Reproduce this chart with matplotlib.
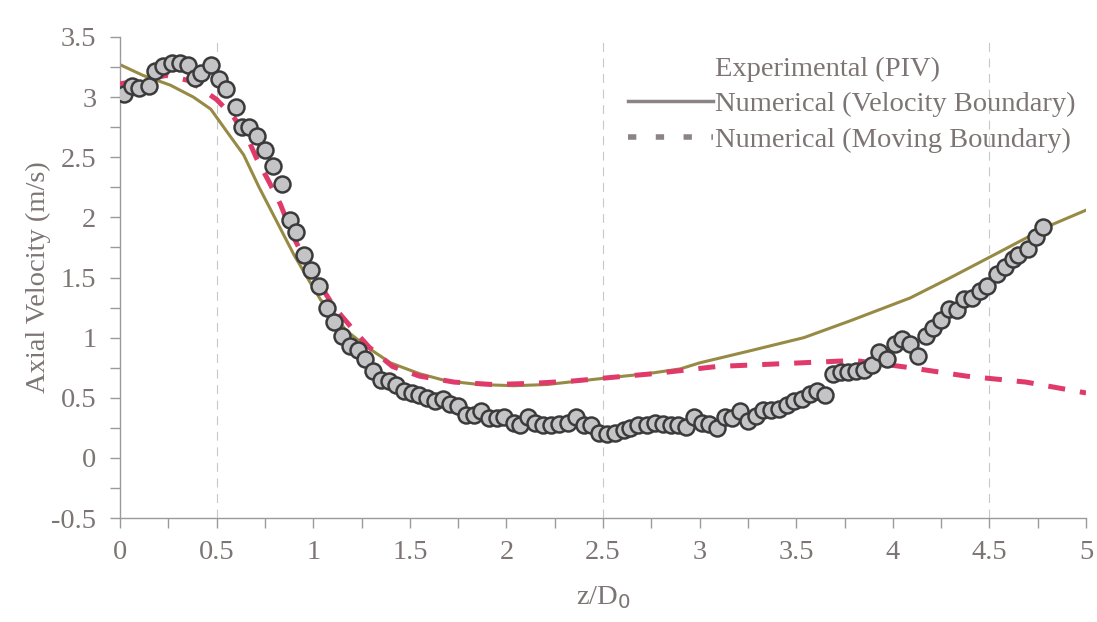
import numpy as np
import matplotlib.pyplot as plt
from matplotlib.lines import Line2D
from matplotlib.ticker import MultipleLocator

# experimental PIV points
exp_z = [0.02, 0.06, 0.10, 0.15, 0.18, 0.22, 0.27, 0.31, 0.35, 0.39, 0.42, 0.47,
         0.51, 0.55, 0.60, 0.63, 0.67, 0.71, 0.75, 0.79, 0.84, 0.88, 0.91, 0.95,
         0.99, 1.03, 1.07, 1.11, 1.15, 1.19, 1.23, 1.27, 1.31, 1.35, 1.39, 1.43,
         1.47, 1.51, 1.55, 1.59, 1.63, 1.67, 1.71, 1.75, 1.79, 1.83, 1.87, 1.91,
         1.95, 1.99, 2.04, 2.07, 2.11, 2.15, 2.19, 2.23, 2.27, 2.32, 2.36, 2.40,
         2.44, 2.48, 2.52, 2.56, 2.61, 2.64, 2.68, 2.73, 2.77, 2.81, 2.85, 2.89,
         2.93, 2.97, 3.01, 3.05, 3.09, 3.13, 3.17, 3.21, 3.25, 3.29, 3.33, 3.37,
         3.41, 3.45, 3.49, 3.53, 3.57, 3.61, 3.65, 3.69, 3.73, 3.77, 3.81, 3.85,
         3.89, 3.93, 3.97, 4.01, 4.05, 4.09, 4.13, 4.17, 4.21, 4.25, 4.29, 4.33,
         4.37, 4.41, 4.45, 4.49, 4.54, 4.58, 4.62, 4.65, 4.70, 4.74, 4.78]
exp_v = [3.03, 3.09, 3.08, 3.09, 3.22, 3.26, 3.28, 3.28, 3.27, 3.16, 3.20, 3.27,
         3.15, 3.07, 2.92, 2.75, 2.75, 2.68, 2.56, 2.43, 2.28, 1.98, 1.88, 1.69,
         1.56, 1.43, 1.25, 1.13, 1.01, 0.93, 0.90, 0.82, 0.72, 0.65, 0.64, 0.61,
         0.56, 0.54, 0.52, 0.50, 0.47, 0.49, 0.45, 0.43, 0.36, 0.36, 0.39, 0.33,
         0.33, 0.34, 0.29, 0.27, 0.34, 0.29, 0.27, 0.27, 0.28, 0.29, 0.34, 0.27,
         0.27, 0.21, 0.20, 0.21, 0.23, 0.25, 0.27, 0.27, 0.29, 0.28, 0.27, 0.27,
         0.26, 0.34, 0.29, 0.28, 0.25, 0.34, 0.33, 0.39, 0.31, 0.35, 0.40, 0.40,
         0.41, 0.44, 0.47, 0.49, 0.53, 0.56, 0.52, 0.70, 0.71, 0.71, 0.72, 0.73,
         0.77, 0.88, 0.82, 0.95, 0.99, 0.95, 0.85, 1.01, 1.08, 1.15, 1.24, 1.23,
         1.32, 1.33, 1.39, 1.43, 1.53, 1.59, 1.65, 1.69, 1.74, 1.84, 1.92]

# numerical, velocity boundary
vel_z = [0.0, 0.12, 0.26, 0.38, 0.47, 0.55, 0.64, 0.72, 0.81, 0.90, 0.98, 1.04,
         1.07, 1.17, 1.28, 1.40, 1.55, 1.69, 1.86, 2.04, 2.21, 2.38, 2.55, 2.73,
         2.90, 3.00, 3.26, 3.54, 3.78, 4.09, 4.30, 4.55, 4.81, 5.0]
vel_v = [3.27, 3.18, 3.10, 3.00, 2.90, 2.72, 2.52, 2.25, 1.97, 1.69, 1.47, 1.31,
         1.28, 1.06, 0.92, 0.79, 0.70, 0.64, 0.61, 0.60, 0.61, 0.64, 0.67, 0.70,
         0.74, 0.79, 0.89, 1.00, 1.14, 1.33, 1.50, 1.71, 1.93, 2.06]

# numerical, moving boundary
mov_z = [0.0, 0.10, 0.24, 0.35, 0.42, 0.50, 0.59, 0.66, 0.71, 0.77, 0.83, 0.90,
         0.98, 1.11, 1.20, 1.29, 1.41, 1.55, 1.73, 1.93, 2.14, 2.35, 2.55, 2.76,
         3.09, 3.38, 3.66, 3.80, 3.95, 4.09, 4.38, 4.69, 5.0]
mov_v = [3.11, 3.14, 3.18, 3.14, 3.07, 2.98, 2.83, 2.66, 2.48, 2.30, 2.11, 1.83,
         1.58, 1.25, 1.08, 0.92, 0.76, 0.68, 0.63, 0.61, 0.62, 0.64, 0.67, 0.70,
         0.76, 0.78, 0.80, 0.81, 0.78, 0.75, 0.68, 0.63, 0.54]

grey = '#7d7474'
plt.rcParams['font.family'] = ['Liberation Serif', 'DejaVu Serif']

fig = plt.figure(figsize=(10.97, 6.22), dpi=100)
ax = fig.add_axes([120/1097, 1-518/622, (1086-120)/1097, (518-37)/622])

for xg in [0.5, 2.5, 4.5]:
    ax.axvline(xg, color='#c8c8c8', lw=0.8, ls=(0, (8, 6)), zorder=0)

ax.plot(vel_z, vel_v, color='#968a45', lw=2.2, zorder=2)
ax.plot(mov_z, mov_v, color='#e03a6a', lw=3.6, ls=(0, (3.4, 3.0)), zorder=3)
ax.plot(exp_z, exp_v, 'o', ms=11.5, mfc='#c4c4c6', mec='#3a3a3a', mew=1.8, zorder=4)

ax.set_xlim(0, 5)
ax.set_ylim(-0.5, 3.5)
ax.xaxis.set_minor_locator(MultipleLocator(0.25))
ax.yaxis.set_minor_locator(MultipleLocator(0.25))
ax.set_xticks(np.arange(0, 5.01, 0.5))
ax.set_xticklabels(['0', '0.5', '1', '1.5', '2', '2.5', '3', '3.5', '4', '4.5', '5'])
ax.set_yticks(np.arange(-0.5, 3.51, 0.5))
ax.set_yticklabels(['-0.5', '0', '0.5', '1', '1.5', '2', '2.5', '3', '3.5'])

for s in ['top', 'right']:
    ax.spines[s].set_visible(False)
for s in ['left', 'bottom']:
    ax.spines[s].set_color('#9a9a9a')
    ax.spines[s].set_linewidth(1.0)
ax.tick_params(which='both', direction='out', length=7, width=1.0, color='#9a9a9a',
               labelsize=20.5, labelcolor=grey)
ax.tick_params(axis='x', pad=9)
ax.tick_params(axis='y', pad=10)

ax.set_xlabel('z/D$_0$', fontsize=20.5, color=grey, labelpad=14)
ax.set_ylabel('Axial Velocity (m/s)', fontsize=20.5, color=grey, labelpad=0)

handles = [Line2D([], [], color='none'),
           Line2D([], [], color='#8c8484', lw=2.5),
           Line2D([], [], color='#8c8484', lw=4, ls=(0, (1.5, 3.5)))]
labels = ['Experimental (PIV)', 'Numerical (Velocity Boundary)', 'Numerical (Moving Boundary)']
leg = fig.legend(handles, labels, loc='upper left', bbox_to_anchor=(628/1097, 1-56/622),
                 frameon=False, fontsize=20.5, handlelength=3.0, handletextpad=0.05,
                 labelspacing=0.33, borderaxespad=0, borderpad=0)
for t in leg.get_texts():
    t.set_color(grey)

fig.savefig('out.png', dpi=100)
